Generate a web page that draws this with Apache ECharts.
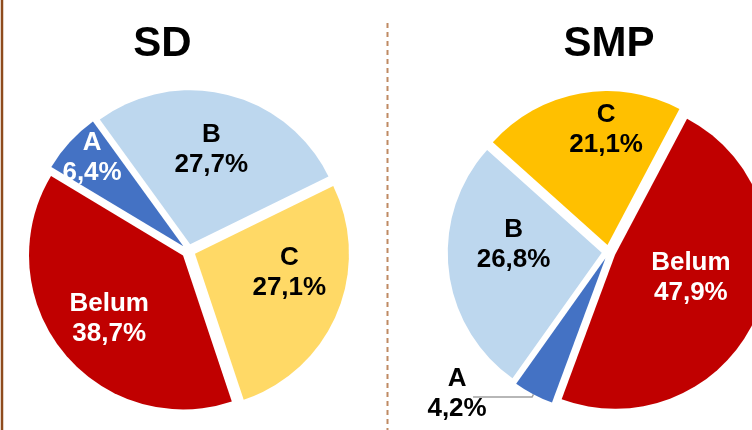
<!DOCTYPE html>
<html><head><meta charset="utf-8">
<script src="https://cdn.jsdelivr.net/npm/echarts@6/dist/echarts.min.js"></script>
<style>html,body{margin:0;padding:0;background:#fff}#c{width:752px;height:430px}</style>
</head><body><div id="c"></div>
<script>
// ---- data ----
const categories = ['A', 'B', 'C', 'Belum'];
const sdValues = [6.4, 27.7, 27.1, 38.7];
const smpValues = [4.2, 26.8, 21.1, 47.9];
const pieTitles = ['SD', 'SMP'];

// ---- layout / style ----
const FONT = '"Liberation Sans", Arial, sans-serif';
const R = 154, OFF = 7;
const pies = [
  { title: pieTitles[0], values: sdValues, center: [188.5, 251], start: 149, titleX: 162.5,
    colors: ['#4472C4', '#BDD7EE', '#FFD966', '#C00000'],
    labelColors: ['#fff', '#000', '#000', '#fff'],
    // [distance from centre as fraction of radius, angular shift (deg, clockwise)]
    place: { A: [0.85, 1.4], B: [0.655, -1.3], C: [0.65, -10.6], Belum: [0.66, -2.0] } },
  { title: pieTitles[1], values: smpValues, center: [608.7, 252], start: -110.3, titleX: 609,
    colors: ['#4472C4', '#BDD7EE', '#FFC000', '#C00000'],
    labelColors: ['#000', '#000', '#000', '#fff'],
    place: { A: [1.33, 19.0], B: [0.60, 10.6], C: [0.775, 8.9], Belum: [0.54, -6.6] }, leader: 'A' }
];
const fmt = v => v.toFixed(1).replace('.', ',');
const txt = { fontFamily: FONT, fontSize: 26, fontWeight: 'bold', lineHeight: 30 };

const series = [];
pies.forEach(p => {
  series.push({
    type: 'pie', center: p.center, radius: R, startAngle: p.start, clockwise: true,
    selectedMode: 'multiple', selectedOffset: OFF, avoidLabelOverlap: false,
    emphasis: { disabled: true }, z: 2,
    label: { show: false }, labelLine: { show: false },
    itemStyle: { borderWidth: 0 },
    data: categories.map((n, i) => {
      const d = { name: n, value: p.values[i], selected: true, itemStyle: { color: p.colors[i] } };
      if (p.leader === n) {
        // leader line only; its text is drawn by the label series below
        d.label = { show: true, position: 'outside', distanceToLabelLine: 0,
          formatter: () => ' ', fontSize: 10 };
        d.labelLine = { show: true, length: 3, length2: 59, smooth: false,
          lineStyle: { color: '#a0a0a0', width: 1.5 } };
      }
      return d;
    })
  });
  Object.keys(p.place).forEach(name => {
    const idx = categories.indexOf(name);
    const [ratio, shift] = p.place[name];
    series.push({
      type: 'pie', center: p.center, radius: 2 * (ratio * R - OFF), startAngle: p.start - shift,
      clockwise: true, selectedMode: 'multiple', selectedOffset: OFF, avoidLabelOverlap: false,
      emphasis: { disabled: true }, silent: true, z: 3,
      itemStyle: { color: 'rgba(0,0,0,0)', borderWidth: 0 },
      labelLine: { show: false },
      data: categories.map((n, i) => ({
        name: n, value: p.values[i], selected: true,
        label: Object.assign({ show: i === idx, position: 'inside', color: p.labelColors[i],
          formatter: q => q.name + '\n' + fmt(q.value) + '%' }, txt)
      }))
    });
  });
});

const chart = echarts.init(document.getElementById('c'), null, { renderer: 'canvas' });
chart.setOption({
  animation: false,
  backgroundColor: '#fff',
  title: pies.map(p => ({ text: p.title, left: p.titleX, top: 23, padding: 0, textAlign: 'center',
    textStyle: { fontFamily: FONT, fontSize: 42, fontWeight: 'bold', color: '#000' } })),
  graphic: [
    { type: 'line', shape: { x1: 2, y1: 0, x2: 2, y2: 430 }, style: { stroke: '#8E4B1D', lineWidth: 2.5 } },
    { type: 'line', shape: { x1: 387.5, y1: 23, x2: 387.5, y2: 430 },
      style: { stroke: '#BF8A63', lineWidth: 2, lineDash: [5, 4] } }
  ],
  series: series
});
</script>
</body></html>
